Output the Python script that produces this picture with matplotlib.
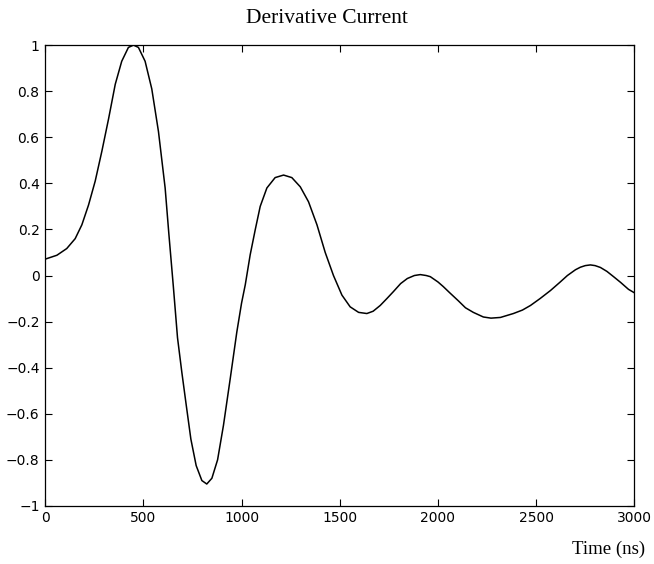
import matplotlib
matplotlib.use('Agg')
import matplotlib.pyplot as plt

# datos (tiempo en ns)
tiempo = [0, 60, 110, 153, 187, 221, 255, 289, 323, 357, 390, 424, 450, 475, 509, 543,
          577, 611, 630, 653, 674, 696, 718, 742, 769, 798, 823, 849, 878, 908, 942, 976,
          1000, 1019, 1044, 1070, 1095, 1129, 1171, 1214, 1256, 1299, 1341, 1384, 1426,
          1468, 1511, 1553, 1596, 1638, 1670, 1706, 1740, 1773, 1810, 1844, 1880, 1910,
          1940, 1961, 2000, 2027, 2060, 2104, 2140, 2180, 2231, 2270, 2318, 2384, 2430,
          2471, 2520, 2573, 2620, 2659, 2700, 2725, 2750, 2776, 2800, 2827, 2860, 2894,
          2930, 2970, 3000]
corriente = [0.071, 0.088, 0.117, 0.16, 0.22, 0.306, 0.41, 0.54, 0.68, 0.83, 0.93, 0.99,
             1.0, 0.99, 0.93, 0.81, 0.625, 0.38, 0.18, -0.05, -0.27, -0.42, -0.56, -0.71,
             -0.825, -0.89, -0.905, -0.88, -0.80, -0.65, -0.45, -0.245, -0.12, -0.04, 0.09,
             0.20, 0.30, 0.38, 0.425, 0.436, 0.425, 0.385, 0.32, 0.22, 0.10, 0.0, -0.085,
             -0.136, -0.16, -0.165, -0.155, -0.13, -0.10, -0.07, -0.035, -0.013, 0.0, 0.004,
             0.0, -0.005, -0.028, -0.048, -0.075, -0.11, -0.14, -0.16, -0.18, -0.185,
             -0.182, -0.165, -0.15, -0.13, -0.10, -0.065, -0.03, 0.0, 0.025, 0.036, 0.043,
             0.046, 0.043, 0.035, 0.018, -0.005, -0.03, -0.06, -0.075]

fig = plt.figure(figsize=(6.54, 5.64), dpi=100)
ax = fig.add_axes([0.069, 0.103, 0.901, 0.817])

ax.plot(tiempo, corriente, color='black', linewidth=1.1)

ax.set_xlim(0, 3000)
ax.set_ylim(-1, 1)
ax.set_xticks([0, 500, 1000, 1500, 2000, 2500, 3000])
ax.set_yticks([-1, -0.8, -0.6, -0.4, -0.2, 0, 0.2, 0.4, 0.6, 0.8, 1])
ax.set_yticklabels(['\u22121', '\u22120.8', '\u22120.6', '\u22120.4', '\u22120.2', '0',
                    '0.2', '0.4', '0.6', '0.8', '1'])
ax.tick_params(direction='in', top=True, right=True, length=5, width=0.8,
               labelsize=10, pad=4)
for lab in ax.get_xticklabels() + ax.get_yticklabels():
    lab.set_family('DejaVu Sans')
for s in ax.spines.values():
    s.set_linewidth(0.9)

fig.text(0.5, 0.968, 'Derivative Current', ha='center', va='center',
         family='Liberation Serif', fontsize=15.5)
fig.text(0.987, 0.01, 'Time (ns)', ha='right', va='bottom',
         family='Liberation Serif', fontsize=13.5)

fig.savefig('out.png', dpi=100)
